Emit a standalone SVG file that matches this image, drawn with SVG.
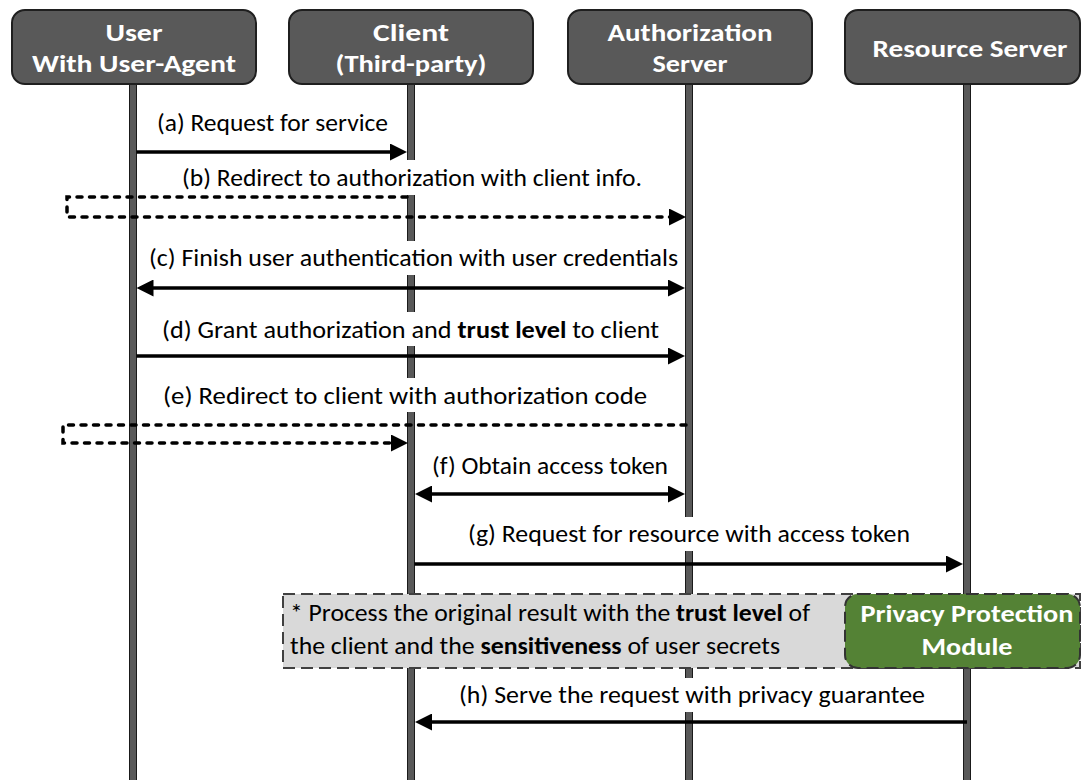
<svg xmlns="http://www.w3.org/2000/svg" width="1083" height="780" viewBox="0 0 1083 780">
<style>
.hdr{fill:#595959;stroke:#1f1f1f;stroke-width:2}
.ht{font-family:Carlito,Calibri,Lato,"Liberation Sans",sans-serif;font-weight:bold;font-size:25px;fill:#fff;text-anchor:middle}
.life{fill:#595959;stroke:#1a1a1a;stroke-width:1}
.lbl{font-family:Carlito,Calibri,Lato,"Liberation Sans",sans-serif;font-size:24px;fill:#000}
.bg{fill:#fff}
.ar{fill:none;stroke:#000;stroke-width:3.5}
.da{fill:none;stroke:#000;stroke-width:3.5;stroke-dasharray:5 7.5;stroke-linecap:round}
.b{font-weight:bold}
</style>
<defs>
<marker id="ah" viewBox="0 0 17 17" markerWidth="17" markerHeight="17" markerUnits="userSpaceOnUse" refX="7" refY="8.5" orient="auto-start-reverse">
<path d="M0,0 L17,8.5 L0,17 z" fill="#000"/>
</marker>
</defs>
<rect width="1083" height="780" fill="#fff"/>

<g id="lifelines">
<rect class="life" x="129.5" y="84" width="7" height="700"/>
<rect class="life" x="407.5" y="84" width="7" height="700"/>
<rect class="life" x="685.5" y="84" width="7" height="700"/>
<rect class="life" x="963.5" y="84" width="7" height="700"/>
</g>

<g id="node-user">
<rect class="hdr" x="12" y="10" width="244" height="74" rx="13"/>
<text class="ht" x="134" y="41" textLength="57" lengthAdjust="spacingAndGlyphs">User</text>
<text class="ht" x="134" y="72" textLength="204" lengthAdjust="spacingAndGlyphs">With User-Agent</text>
</g>
<g id="node-client">
<rect class="hdr" x="289" y="10" width="244" height="74" rx="13"/>
<text class="ht" x="411" y="41" textLength="76" lengthAdjust="spacingAndGlyphs">Client</text>
<text class="ht" x="411" y="72" textLength="151" lengthAdjust="spacingAndGlyphs">(Third-party)</text>
</g>
<g id="node-auth">
<rect class="hdr" x="568" y="10" width="244" height="74" rx="13"/>
<text class="ht" x="690" y="41" textLength="165" lengthAdjust="spacingAndGlyphs">Authorization</text>
<text class="ht" x="690" y="72" textLength="75" lengthAdjust="spacingAndGlyphs">Server</text>
</g>
<g id="node-resource">
<rect class="hdr" x="845" y="10" width="235" height="74" rx="13"/>
<text class="ht" x="970" y="57" textLength="195" lengthAdjust="spacingAndGlyphs">Resource Server</text>
</g>

<g id="labels-bg">
<rect class="bg" x="145" y="160" width="510" height="35"/>
<rect class="bg" x="145" y="241" width="540" height="34"/>
<rect class="bg" x="150" y="312" width="520" height="34"/>
<rect class="bg" x="150" y="378" width="510" height="34"/>
<rect class="bg" x="460" y="517" width="460" height="34"/>
<rect class="bg" x="450" y="678" width="485" height="34"/>
</g>

<g id="connectors">
<path class="ar" d="M136.5,152 H397" marker-end="url(#ah)"/>
<path class="da" d="M407,197 H67 V217 H675"/>
<path d="M672,217 H676" stroke="#000" stroke-width="3.5" marker-end="url(#ah)"/>
<path class="ar" d="M146.5,288 H675" marker-start="url(#ah)" marker-end="url(#ah)"/>
<path class="ar" d="M136.5,356 H675" marker-end="url(#ah)"/>
<path class="da" d="M686,425 H63 V443 H397"/>
<path d="M394,443 H398" stroke="#000" stroke-width="3.5" marker-end="url(#ah)"/>
<path class="ar" d="M425,494 H675" marker-start="url(#ah)" marker-end="url(#ah)"/>
<path class="ar" d="M414.5,564 H953" marker-end="url(#ah)"/>
<path class="ar" d="M967,722 H425" marker-end="url(#ah)"/>
</g>

<g id="labels">
<text class="lbl" x="157" y="131" textLength="231" lengthAdjust="spacingAndGlyphs">(a) Request for service</text>
<text class="lbl" x="182" y="186" textLength="460" lengthAdjust="spacingAndGlyphs">(b) Redirect to authorization with client info.</text>
<text class="lbl" x="149" y="266" textLength="529" lengthAdjust="spacingAndGlyphs">(c) Finish user authentication with user credentials</text>
<text class="lbl" x="162" y="338" textLength="497" lengthAdjust="spacingAndGlyphs">(d) Grant authorization and <tspan class="b">trust level</tspan> to client</text>
<text class="lbl" x="163" y="404" textLength="484" lengthAdjust="spacingAndGlyphs">(e) Redirect to client with authorization code</text>
<text class="lbl" x="432" y="474" textLength="236" lengthAdjust="spacingAndGlyphs">(f) Obtain access token</text>
<text class="lbl" x="468" y="542" textLength="442" lengthAdjust="spacingAndGlyphs">(g) Request for resource with access token</text>
<text class="lbl" x="459" y="703" textLength="466" lengthAdjust="spacingAndGlyphs">(h) Serve the request with privacy guarantee</text>
</g>

<g id="node-note">
<rect x="283" y="594" width="797" height="74" fill="#d9d9d9" stroke="#404040" stroke-width="2" stroke-dasharray="12 6"/>
<text class="lbl" x="290" y="621" textLength="520" lengthAdjust="spacingAndGlyphs">* Process the original result with the <tspan class="b">trust level</tspan> of</text>
<text class="lbl" x="290" y="654" textLength="490" lengthAdjust="spacingAndGlyphs">the client and the <tspan class="b">sensitiveness</tspan> of user secrets</text>
</g>
<g id="node-privacy">
<rect x="845" y="594" width="235" height="74" rx="13" fill="#548235" stroke="#333" stroke-width="2" stroke-dasharray="12 6"/>
<text class="ht" x="967" y="622" textLength="213" lengthAdjust="spacingAndGlyphs">Privacy Protection</text>
<text class="ht" x="967" y="655" textLength="91" lengthAdjust="spacingAndGlyphs">Module</text>
</g>
</svg>
